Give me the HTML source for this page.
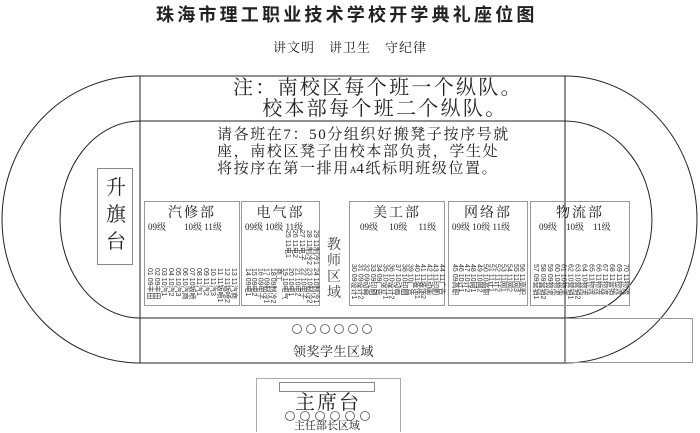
<!DOCTYPE html>
<html><head><meta charset="utf-8"><style>
body{margin:0;width:700px;height:432px;background:#fff;position:relative;overflow:hidden;font-family:"Liberation Serif","Noto Serif CJK SC",serif;color:#222}
.a{position:absolute;white-space:nowrap}
.box{position:absolute;border:1px solid #999;box-sizing:border-box}
.cols{position:absolute;display:flex;justify-content:space-between}
.cols span{writing-mode:vertical-rl;text-orientation:sideways;font-size:7px;line-height:6px;height:36px;font-family:"Liberation Sans","Noto Sans CJK SC",sans-serif;color:#333}
.dt{position:absolute;font-size:14px;letter-spacing:2px;text-align:center;width:100%;top:0}
.cl{position:absolute;font-size:9px;top:18px;left:3px;white-space:nowrap}
</style></head><body>
<svg width="700" height="432" style="position:absolute;left:0;top:0" fill="none" stroke="#222" stroke-width="1">
<line x1="140" y1="76" x2="565" y2="76"/>
<line x1="140" y1="121" x2="565" y2="121"/>
<line x1="140" y1="318" x2="565" y2="318"/>
<line x1="140" y1="363" x2="565" y2="363"/>
<line x1="140" y1="76" x2="140" y2="363"/>
<line x1="565" y1="76" x2="565" y2="363"/>
<path d="M140 76 A138 143.5 0 0 0 140 363"/>
<path d="M140 121 A80 98.5 0 0 0 140 318"/>
<path d="M565 76 A132 143.5 0 0 1 565 363"/>
<path d="M565 121 A87 98.5 0 0 1 565 318"/>
<rect x="565.5" y="318.5" width="127" height="44" stroke="#999"/>
<rect x="256.5" y="378.5" width="144" height="60" stroke="#aaa"/>
<rect x="279.5" y="382.5" width="95" height="9" stroke="#888"/>
<rect x="97.5" y="168.5" width="35" height="96" stroke="#888"/>
<g stroke="#555" stroke-width="0.8">
<circle cx="297" cy="329" r="4.5"/><circle cx="311" cy="329" r="4.5"/><circle cx="325" cy="329" r="4.5"/><circle cx="339" cy="329" r="4.5"/><circle cx="353" cy="329" r="4.5"/><circle cx="367" cy="329" r="4.5"/>
<circle cx="290" cy="416" r="4.5"/><circle cx="305" cy="416" r="4.5"/><circle cx="320" cy="416" r="4.5"/><circle cx="335" cy="416" r="4.5"/><circle cx="350" cy="416" r="4.5"/><circle cx="365" cy="416" r="4.5"/>
</g>
</svg>
<div class="a" style="left:156px;top:1px;font-size:18px;letter-spacing:3.2px;font-weight:bold;font-family:'Liberation Sans','Noto Sans CJK SC',sans-serif">珠海市理工职业技术学校开学典礼座位图</div>
<div class="a" style="left:273px;top:37px;font-size:13px;letter-spacing:1px">讲文明　讲卫生　守纪律</div>
<div class="a" style="left:233px;top:78px;font-size:20px;line-height:21px;letter-spacing:2.3px">注：南校区每个班一个纵队。<br>&nbsp;&nbsp;&nbsp;&nbsp;校本部每个班二个纵队。</div>
<div class="a" style="left:217px;top:127px;font-size:15px;line-height:17px;letter-spacing:1.6px">请各班在7：50分组织好搬凳子按序号就<br>座，南校区凳子由校本部负责，学生处<br>将按序在第一排用<span style="font-size:9px;letter-spacing:0">A</span>4纸标明班级位置。</div>
<div class="a" style="left:106px;top:175px;font-size:20px;line-height:27px">升<br>旗<br>台</div>
<div class="a" style="left:327px;top:238px;font-size:14px;line-height:16px;color:#444">教<br>师<br>区<br>域</div>

<div class="box" style="left:144px;top:201px;width:96px;height:105px"><div class="dt">汽修部</div><div class="cl">09级　　10级 11级</div></div>
<div class="box" style="left:241px;top:201px;width:79px;height:105px"><div class="dt">电气部</div><div class="cl">09级 10级 11级</div></div>
<div class="box" style="left:349px;top:201px;width:96px;height:105px"><div class="dt">美工部</div><div class="cl" style="left:10px">09级　 10级　 11级</div></div>
<div class="box" style="left:448px;top:201px;width:80px;height:105px"><div class="dt">网络部</div><div class="cl">09级 10级 11级</div></div>
<div class="box" style="left:530px;top:201px;width:100px;height:105px"><div class="dt">物流部</div><div class="cl" style="left:8px">09级　10级　11级</div></div>

<div class="cols" style="left:146px;top:268px;width:90px"><span>01 09丰田</span><span>02 09丰田</span><span>03 10汽1</span><span>04 10汽2</span><span>05 10汽3</span><span>06 10汽商</span><span>07 10钣喷</span><span>08 11汽1</span><span>09 11汽2</span><span>10 11汽3</span><span>11 11钣喷1</span><span>12 11钣喷2</span><span>13 11汽商</span></div>
<div class="cols" style="left:244px;top:268px;width:74px"><span>14 09电1</span><span>15 09电2</span><span>16 09电子</span><span>17 09制冷1</span><span>18 09制冷2</span><span>19 10电气商工</span><span>20 10电1</span><span>21 10电2</span><span>22 10电子</span><span>23 10制冷2</span><span>24 10制冷1</span></div>
<div class="cols" style="left:284px;top:230px;width:34px"><span>25 11电1</span><span>26 11电2</span><span>27 11电子</span><span>28 11制冷2</span><span>29 11制冷1</span></div>
<div class="cols" style="left:350px;top:264px;width:94px"><span>30 09设计1</span><span>31 09设计2</span><span>32 09动画</span><span>33 09印刷</span><span>34 09广告</span><span>35 10设计1</span><span>36 10设计2</span><span>37 10动画</span><span>38 10印刷</span><span>39 10广告</span><span>40 11装饰1</span><span>41 11装饰2</span><span>42 11动画</span><span>43 11印刷</span><span>44 11广告</span></div>
<div class="cols" style="left:451px;top:264px;width:73px"><span>45 09高职</span><span>46 10计1</span><span>47 10计2</span><span>48 10网1</span><span>49 10网2</span><span>50 10高职</span><span>51 11计1</span><span>52 11计2</span><span>53 11网1</span><span>54 11网2</span><span>55 11网3</span><span>56 11高职</span></div>
<div class="cols" style="left:532px;top:264px;width:96px"><span>57 09营销1</span><span>58 09营销2</span><span>59 09物流</span><span>60 10物流</span><span>61 10物流</span><span>62 10营销1</span><span>63 10营销2</span><span>64 10物流</span><span>65 11物流</span><span>66 11物流</span><span>67 11物流</span><span>68 11营销</span><span>69 11物流</span><span>70 11物流</span></div>

<div class="a" style="left:293px;top:341px;font-size:13px;letter-spacing:0.5px">领奖学生区域</div>
<div class="a" style="left:295px;top:386px;font-size:20px;letter-spacing:2px">主席台</div>
<div class="a" style="left:294px;top:417px;font-size:11px">主任部长区域</div>
</body></html>
